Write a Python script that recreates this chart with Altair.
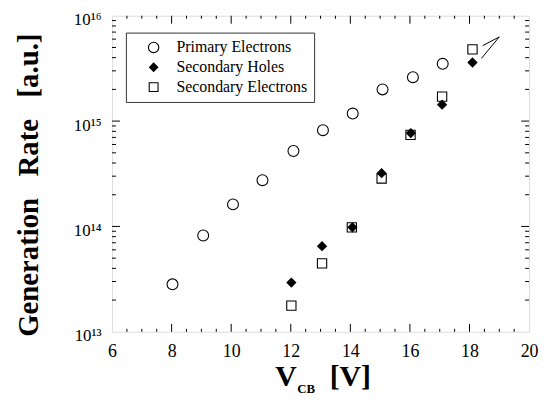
import altair as alt
import pandas as pd

# ---- data ----
primary_x = [8.03, 9.06, 10.06, 11.05, 12.09, 13.08, 14.08, 15.08, 16.1, 17.1]
primary_y = [2.82e13, 8.2e13, 1.62e14, 2.75e14, 5.2e14, 8.2e14, 1.18e15, 2.0e15, 2.61e15, 3.5e15]

holes_x = [12.02, 13.05, 14.07, 15.05, 16.03, 17.08, 18.1]
holes_y = [2.93e13, 6.5e13, 9.8e13, 3.2e14, 7.7e14, 1.43e15, 3.6e15]

elec_x = [12.02, 13.05, 14.05, 15.05, 16.02, 17.08, 18.1]
elec_y = [1.77e13, 4.46e13, 9.8e13, 2.85e14, 7.4e14, 1.71e15, 4.8e15]

series_names = ["Primary Electrons", "Secondary Holes", "Secondary Electrons"]

x_ticks = [6, 8, 10, 12, 14, 16, 18, 20]
x_minor = [6.5, 7, 7.5, 8.5, 9, 9.5, 10.5, 11, 11.5, 12.5, 13, 13.5,
           14.5, 15, 15.5, 16.5, 17, 17.5, 18.5, 19, 19.5]
x_major_inner = [8, 10, 12, 14, 16, 18]
y_ticks = [1e13, 1e14, 1e15, 1e16]
y_major_inner = [1e14, 1e15]
y_minor = [m * d for d in (1e13, 1e14, 1e15) for m in (2, 3, 4, 5, 6, 7, 8, 9)]

arrow_x = [18.4, 18.44]
arrow_y = [3.94e15, 5.2e15]
arrow_x2 = [19.0, 19.0]
arrow_y2 = [6.3e15, 6.3e15]

NB = "\u00a0"
y_title = ["Generation" + NB * 3 + "Rate" + NB * 3 + "[a.u.]"]
x_title_main = ["V"]
x_title_sub = ["CB"]
x_title_unit = ["[V]"]

FONT = "Liberation Serif"
W, H = 421, 319

rows = []
for x, y in zip(primary_x, primary_y):
    rows.append({"x": x, "y": y, "series": series_names[0]})
for x, y in zip(elec_x, elec_y):
    rows.append({"x": x, "y": y, "series": series_names[2]})
for x, y in zip(holes_x, holes_y):
    rows.append({"x": x, "y": y, "series": series_names[1]})
df = pd.DataFrame(rows)

xs = alt.Scale(domain=[6, 20], nice=False, zero=False)
ys = alt.Scale(type="log", domain=[1e13, 1e16], nice=False)

label_expr = ("round(log(datum.value)/LN10) == 13 ? '10\u00b9\u00b3' : "
              "round(log(datum.value)/LN10) == 14 ? '10\u00b9\u2074' : "
              "round(log(datum.value)/LN10) == 15 ? '10\u00b9\u2075' : '10\u00b9\u2076'")

xaxis = alt.Axis(values=x_ticks, ticks=False, tickSize=0, domain=False, grid=False,
                 labelFont=FONT, labelFontSize=18, labelColor="black",
                 labelPadding=11, labelBaseline="top", title=None, labelFlush=False)
yaxis = alt.Axis(values=y_ticks, ticks=False, tickSize=0, domain=False, grid=False,
                 labelExpr=label_expr, labelFont=FONT, labelFontSize=17,
                 labelColor="black", labelPadding=11, labelBaseline="alphabetic",
                 labelOffset=9, title=None, labelFlush=False)

legend = alt.Legend(orient="none", legendX=14, legendY=17, padding=7,
                    symbolOffset=13, labelOffset=15, rowPadding=4,
                    labelFont=FONT, labelFontSize=16, labelColor="black",
                    strokeColor="#333", fillColor="white",
                    symbolStrokeColor="black", symbolStrokeWidth=1.1, symbolSize=110)

points = alt.Chart(df).mark_point(filled=True, strokeWidth=1.1, opacity=1).encode(
    x=alt.X("x:Q", scale=xs, axis=xaxis),
    y=alt.Y("y:Q", scale=ys, axis=yaxis),
    shape=alt.Shape("series:N", title=None, legend=legend,
                    scale=alt.Scale(domain=series_names,
                                    range=["circle",
                                           "M-0.8,0L0,-0.8L0.8,0L0,0.8Z",
                                           "M-0.85,-0.85H0.85V0.85H-0.85Z"])),
    fill=alt.Fill("series:N", title=None, legend=legend,
                  scale=alt.Scale(domain=series_names, range=["white", "black", "white"])),
    stroke=alt.Stroke("series:N", title=None, legend=legend,
                      scale=alt.Scale(domain=series_names, range=["black", "black", "black"])),
    size=alt.value(121),
)

def xrules(vals, y0, y1):
    return alt.Chart(pd.DataFrame({"x": vals})).mark_rule(color="black", strokeWidth=1).encode(
        x=alt.X("x:Q", scale=xs, axis=xaxis), y=alt.value(y0), y2=alt.value(y1))

def yrules(vals, x0, x1):
    return alt.Chart(pd.DataFrame({"y": vals})).mark_rule(color="black", strokeWidth=1).encode(
        y=alt.Y("y:Q", scale=ys, axis=yaxis), x=alt.value(x0), x2=alt.value(x1))

ticks = [
    xrules(x_major_inner, H, H - 8), xrules(x_major_inner, 0, 8),
    xrules(x_minor, H, H - 3), xrules(x_minor, 0, 3),
    yrules(y_major_inner, 0, 8), yrules(y_major_inner, W, W - 8),
    yrules(y_minor, 0, 4), yrules(y_minor, W, W - 4),
]

arrow = alt.Chart(pd.DataFrame({"x": arrow_x, "y": arrow_y, "x2": arrow_x2, "y2": arrow_y2})).mark_rule(
    color="black", strokeWidth=1).encode(
    x=alt.X("x:Q", scale=xs, axis=xaxis), y=alt.Y("y:Q", scale=ys, axis=yaxis),
    x2="x2:Q", y2="y2:Q")

def text(vals, x, y, size, align="center", baseline="alphabetic", angle=0):
    kw = dict(font=FONT, fontSize=size, fontWeight="bold", color="black",
              align=align, baseline=baseline)
    if angle:
        kw["angle"] = angle
    return alt.Chart(pd.DataFrame({"t": vals})).mark_text(**kw).encode(
        text="t:N", x=alt.value(x), y=alt.value(y))

titles = [
    text(y_title, -84, 171, 29, baseline="middle", angle=270),
    text(x_title_main, 175.5, 374, 30),
    text(x_title_sub, 187, 381, 13, align="left"),
    text(x_title_unit, 240.5, 374, 30),
]

chart = alt.layer(points, *ticks, arrow, *titles).properties(
    width=W, height=H,
    autosize=alt.AutoSizeParams(type="none"),
    padding={"left": 105, "top": 6, "right": 10, "bottom": 65},
).configure_view(
    stroke="black", strokeWidth=1.3
).configure(background="white")

chart.save("out.html", embed_options={"renderer": "svg", "actions": False})
